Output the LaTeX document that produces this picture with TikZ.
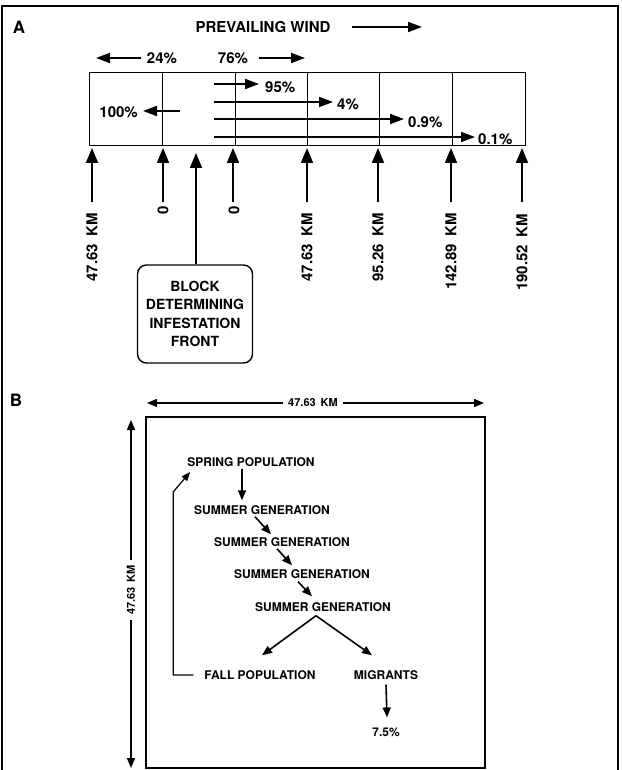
\documentclass[tikz,border=0pt]{standalone}
\usepackage{fontspec}
\setmainfont{TeX Gyre Heros}
\usetikzlibrary{arrows.meta,calc}
\begin{document}
\begin{tikzpicture}[x=1pt,y=-1pt,
  lab/.style={font=\bfseries\fontsize{15}{18}\selectfont, inner sep=1pt},
  labB/.style={font=\bfseries\fontsize{12}{14}\selectfont, inner sep=1pt},
  dimlab/.style={font=\bfseries\fontsize{11}{13}\selectfont, inner sep=1pt, fill=white, inner xsep=5pt},
  bigarr/.style={line width=1.8pt, -{Triangle[length=14pt,width=10pt]}},
  uparr/.style={line width=1.8pt, -{Triangle[length=15pt,width=12pt]}},
  arrB/.style={line width=1.6pt, -{Triangle[length=10pt,width=8pt]}},
  dimarr/.style={line width=1.4pt, {Triangle[length=10pt,width=8pt]}-{Triangle[length=10pt,width=8pt]}},
  cell/.style={minimum height=72pt, inner sep=0pt},
  gridline/.style={line width=1.3pt},
  rot/.style={lab, rotate=90, anchor=east},
]
\useasboundingbox (0,0) rectangle (621,770);
% outer frame
\draw[line width=1.5pt] (2,772) -- (2,6) -- (618,6) -- (618,772);

% ---------------- Section A ----------------
\node[font=\bfseries\fontsize{17}{20}\selectfont, inner sep=0pt] (lblA) at (19,27) {A};
\node[lab] (wind) at (263,27) {PREVAILING WIND};
\coordinate (w1) at (352,27);
\coordinate (w2) at (422,27);
\draw[bigarr] (w1) -- (w2);

\node[lab] (p24) at (162,58) {24\%};
\coordinate (a24s) at (141,58);
\coordinate (a24e) at (96,58);
\draw[bigarr] (a24s) -- (a24e);
\node[lab] (p76) at (233,58) {76\%};
\coordinate (a76s) at (259,58);
\coordinate (a76e) at (305,58);
\draw[bigarr] (a76s) -- (a76e);

% grid cells (boundaries at 90,162,235,307,379,452,525)
\node[cell, minimum width=72pt] (c1) at (126,109) {};
\node[cell, minimum width=73pt] (c2) at (198.5,109) {};
\node[cell, minimum width=72pt] (c3) at (271,109) {};
\node[cell, minimum width=72pt] (c4) at (343,109) {};
\node[cell, minimum width=73pt] (c5) at (415.5,109) {};
\node[cell, minimum width=73pt] (c6) at (488.5,109) {};
\draw[gridline] (c1.north west) rectangle (c6.south east);
\foreach \c in {c1,c2,c3,c4,c5}{
  \draw[gridline] (\c.north east) -- (\c.south east);
}

% dispersal arrows
\coordinate (s1) at (214,84);
\coordinate (s2) at (214,102);
\coordinate (s3) at (214,119);
\coordinate (s4) at (214,137);
\coordinate (t1) at (259,84);
\coordinate (t2) at (333,102);
\coordinate (t3) at (404,119);
\coordinate (t4) at (475,137);
\draw[bigarr] (s1) -- (t1);
\draw[bigarr] (s2) -- (t2);
\draw[bigarr] (s3) -- (t3);
\draw[bigarr] (s4) -- (t4);
\node[lab, anchor=west] (p95) at (264,87) {95\%};
\node[lab, anchor=west] (p4) at (336,104) {4\%};
\node[lab, anchor=west] (p09) at (407,122) {0.9\%};
\node[lab, anchor=west] (p01) at (477,139) {0.1\%};

\coordinate (b100s) at (180,111);
\coordinate (b100e) at (143,111);
\draw[bigarr] (b100s) -- (b100e);
\node[lab, anchor=east] (p100) at (139,112) {100\%};

% up arrows and distance labels
\foreach \n/\x in {u1/92,u2/163,u4/233,u5/307,u6/378,u7/451,u8/522}{
  \coordinate (\n b) at (\x,202);
  \coordinate (\n t) at (\x,148);
  \draw[uparr] (\n b) -- (\n t);
}
\node[rot] (k1) at (92,212) {47.63\hspace{0.5em}KM};
\node[lab, rotate=90] (k2) at (163,210) {0};
\node[lab, rotate=90] (k4) at (234,210) {0};
\node[rot] (k5) at (307,212) {47.63\hspace{0.5em}KM};
\node[rot] (k6) at (378,212) {95.26\hspace{0.5em}KM};
\node[rot] (k7) at (451,212) {142.89\hspace{0.5em}KM};
\node[rot] (k8) at (522,213) {190.52\hspace{0.5em}KM};

% block box
\node[draw, rounded corners=9pt, line width=1.4pt, minimum width=115pt, minimum height=98pt,
      align=center, inner sep=0pt, font=\bfseries\fontsize{14}{18.3}\selectfont] (block) at (195,314)
      {BLOCK\\DETERMINING\\INFESTATION\\FRONT};
\coordinate (u3t) at (196,153);
\draw[uparr] ($(block.north)+(1,0)$) -- (u3t);

% ---------------- Section B ----------------
\node[font=\bfseries\fontsize{17}{20}\selectfont, inner sep=0pt] (lblB) at (16,400) {B};
\node[draw, line width=1.3pt, minimum width=339pt, minimum height=351pt, inner sep=0pt] (boxB) at (315.5,592.5) {};

\coordinate (hl) at (147,403);
\coordinate (hr) at (484,403);
\draw[dimarr] (hl) -- (hr);
\node[dimlab] (hdim) at (313,403) {47.63\hspace{0.45em}KM};

\coordinate (vb) at (131,768);
\coordinate (vt) at (131,420);
\draw[dimarr] (vb) -- (vt);
\node[dimlab, rotate=90] (vdim) at (131,590) {47.63\hspace{0.45em}KM};

\node[labB] (spring) at (251,462) {SPRING POPULATION};
\node[labB] (sg1) at (262,510) {SUMMER GENERATION};
\node[labB] (sg2) at (282,542) {SUMMER GENERATION};
\node[labB] (sg3) at (302,574) {SUMMER GENERATION};
\node[labB] (sg4) at (323,607) {SUMMER GENERATION};
\node[labB] (fall) at (260,675) {FALL POPULATION};
\node[labB] (migr) at (386,675) {MIGRANTS};
\node[labB] (pct) at (386,732) {7.5\%};

\draw[arrB] ($(spring.south)+(-9,1)$) -- ($(sg1.north)+(-20,-4)$);
\draw[arrB] ($(sg1.south)+(-7,1)$) -- ($(sg2.north)+(-11,-2)$);
\draw[arrB] ($(sg2.south)+(-5,1)$) -- ($(sg3.north)+(-10,-3)$);
\draw[arrB] ($(sg3.south)+(-4,2)$) -- ($(sg4.north)+(-11,-5)$);
\coordinate (apex) at ($(sg4.south)+(-7,3)$);
\draw[arrB] (apex) -- ($(fall.north)+(2,-14)$);
\draw[arrB] (apex) -- ($(migr.north)+(-14,-14)$);
\draw[arrB] ($(migr.south)+(0,4)$) -- ($(pct.north)+(1,-9)$);
\draw[line width=1.2pt, -{Triangle[length=9pt,width=7pt]}]
  ($(fall.west)+(-10,0)$) -- ($(fall.west)+(-30,0)$) -- ($(spring.west)+(-13,30)$) -- ($(spring.west)+(4,10)$);
\end{tikzpicture}
\end{document}
